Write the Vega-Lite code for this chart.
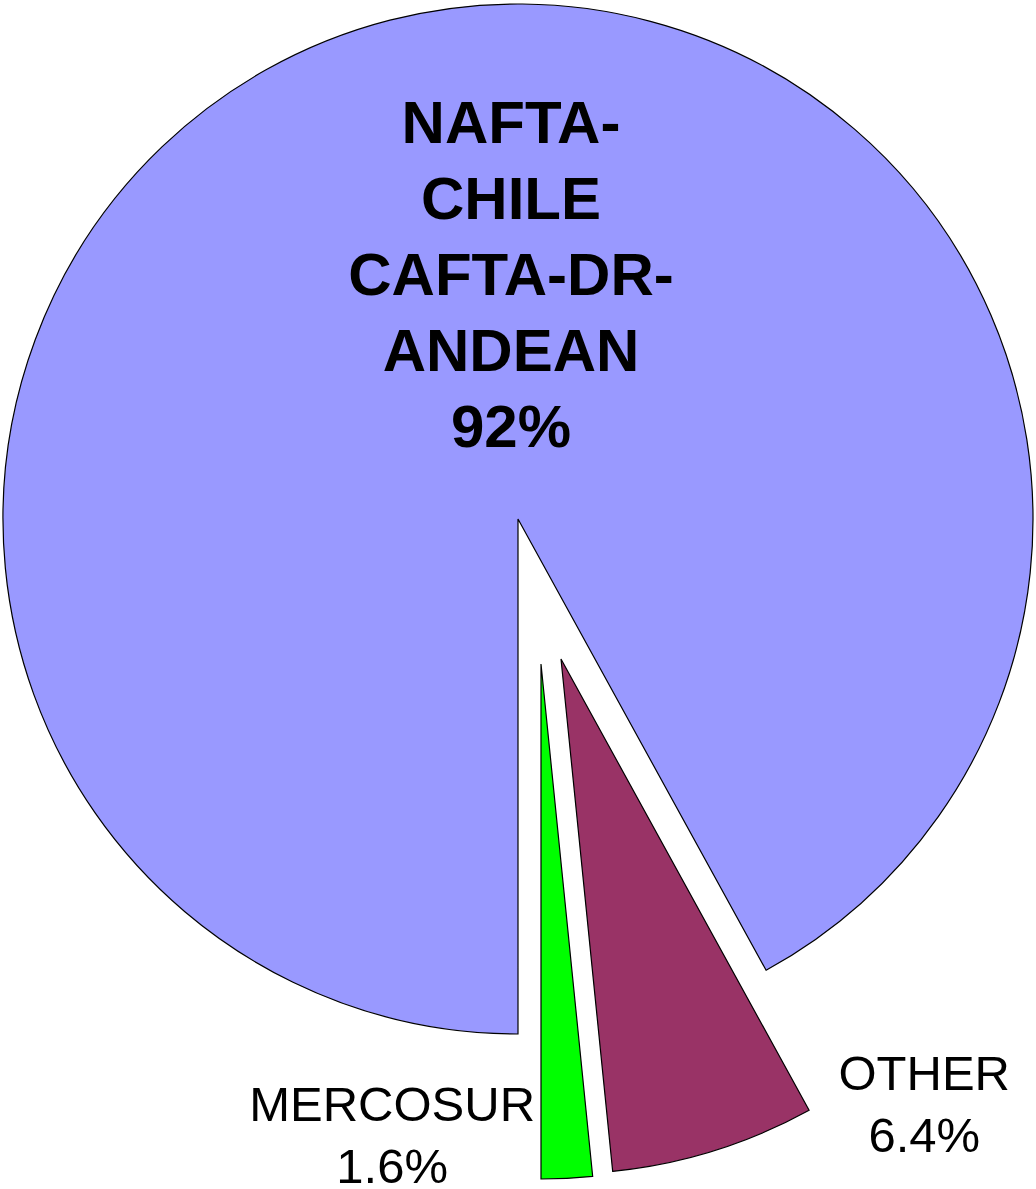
{
  "$schema": "https://vega.github.io/schema/vega-lite/v6.json",
  "width": 1036,
  "height": 1038,
  "autosize": {"type": "none"},
  "padding": {"left": 0, "top": 0, "right": 0, "bottom": 151},
  "background": "white",
  "config": {"view": {"stroke": null}},
  "data": {
    "values": [
      {"name": "NAFTA", "ord": 1, "value": 92, "label": "NAFTA-\nCHILE\nCAFTA-DR-\nANDEAN\n92%"},
      {"name": "OTHER", "ord": 2, "value": 6.4, "label": "OTHER\n6.4%"},
      {"name": "MERCOSUR", "ord": 3, "value": 1.6, "label": "MERCOSUR\n1.6%"}
    ]
  },
  "transform": [
    {"stack": "value", "groupby": [], "as": ["v0", "v1"], "sort": [{"field": "ord", "order": "ascending"}]}
  ],
  "layer": [
    {
      "transform": [{"filter": "datum.name === 'NAFTA'"}],
      "mark": {"type": "arc", "radius": 515, "stroke": "black", "strokeWidth": 1.2},
      "encoding": {
        "theta": {"field": "v0", "type": "quantitative", "scale": {"domain": [0, 100], "range": [3.141592653589793, 9.42477796076938]}},
        "theta2": {"field": "v1"},
        "color": {"field": "name", "type": "nominal", "scale": {"domain": ["NAFTA", "OTHER", "MERCOSUR"], "range": ["#9999FF", "#993366", "#00FF00"]}, "legend": null}
      }
    },
    {
      "transform": [{"filter": "datum.name === 'OTHER'"}],
      "mark": {"type": "arc", "radius": 515, "stroke": "black", "strokeWidth": 1.2, "xOffset": 43, "yOffset": 140},
      "encoding": {
        "theta": {"field": "v0", "type": "quantitative", "scale": {"domain": [0, 100], "range": [3.141592653589793, 9.42477796076938]}},
        "theta2": {"field": "v1"},
        "color": {"field": "name", "type": "nominal", "scale": {"domain": ["NAFTA", "OTHER", "MERCOSUR"], "range": ["#9999FF", "#993366", "#00FF00"]}, "legend": null}
      }
    },
    {
      "transform": [{"filter": "datum.name === 'MERCOSUR'"}],
      "mark": {"type": "arc", "radius": 515, "stroke": "black", "strokeWidth": 1.2, "xOffset": 23, "yOffset": 145},
      "encoding": {
        "theta": {"field": "v0", "type": "quantitative", "scale": {"domain": [0, 100], "range": [3.141592653589793, 9.42477796076938]}},
        "theta2": {"field": "v1"},
        "color": {"field": "name", "type": "nominal", "scale": {"domain": ["NAFTA", "OTHER", "MERCOSUR"], "range": ["#9999FF", "#993366", "#00FF00"]}, "legend": null}
      }
    },
    {
      "mark": {"type": "text", "radius": 390, "dx": 90, "dy": 2, "font": "Liberation Sans", "fontSize": 60, "fontWeight": "bold", "lineHeight": 76, "align": "center", "baseline": "alphabetic", "lineBreak": "\n", "color": "black"},
      "encoding": {
        "theta": {"field": "value", "type": "quantitative", "stack": true, "scale": {"domain": [0, 100], "range": [3.141592653589793, 9.42477796076938]}},
        "order": {"field": "ord", "type": "quantitative"},
        "text": {"condition": {"test": "datum.name === 'NAFTA'", "field": "label"}, "value": ""}
      }
    },
    {
      "mark": {"type": "text", "radius": 600, "dx": 228, "dy": -2, "font": "Liberation Sans", "fontSize": 49, "lineHeight": 62, "align": "center", "baseline": "alphabetic", "lineBreak": "\n", "color": "black"},
      "encoding": {
        "theta": {"field": "value", "type": "quantitative", "stack": true, "scale": {"domain": [0, 100], "range": [3.141592653589793, 9.42477796076938]}},
        "order": {"field": "ord", "type": "quantitative"},
        "text": {"condition": {"test": "datum.name === 'OTHER'", "field": "label"}, "value": ""}
      }
    },
    {
      "mark": {"type": "text", "radius": 600, "dx": -156, "dy": 3, "font": "Liberation Sans", "fontSize": 49, "lineHeight": 62, "align": "center", "baseline": "alphabetic", "lineBreak": "\n", "color": "black"},
      "encoding": {
        "theta": {"field": "value", "type": "quantitative", "stack": true, "scale": {"domain": [0, 100], "range": [3.141592653589793, 9.42477796076938]}},
        "order": {"field": "ord", "type": "quantitative"},
        "text": {"condition": {"test": "datum.name === 'MERCOSUR'", "field": "label"}, "value": ""}
      }
    }
  ]
}
